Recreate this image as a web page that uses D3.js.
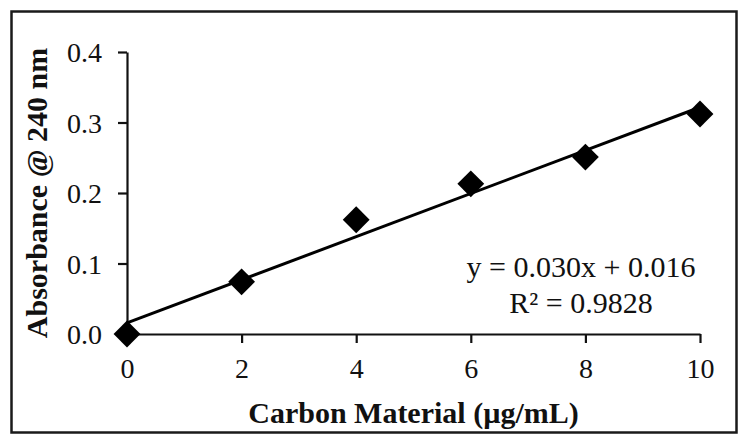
<!DOCTYPE html>
<html>
<head>
<meta charset="utf-8">
<script src="https://cdn.jsdelivr.net/npm/d3@7"></script>
<style>
  body { margin: 0; background: #fff; }
  text { font-family: "Liberation Serif", "DejaVu Serif", serif; fill: #111; }
</style>
</head>
<body>
<div id="my_dataviz"></div>
<script>
// data
var concentration = [0, 2, 4, 6, 8, 10];
var absorbance = [0.0, 0.074, 0.162, 0.213, 0.251, 0.312];
var xTicks = [0, 2, 4, 6, 8, 10];
var yTicks = [0, 0.1, 0.2, 0.3, 0.4];
var eqLabel = "y = 0.030x + 0.016";
var r2Label = "R\u00b2 = 0.9828";

var margin = { top: 52, right: 48, bottom: 111, left: 127 },
  width = 748 - margin.left - margin.right,
  height = 445 - margin.top - margin.bottom;

var svg = d3
  .select("#my_dataviz")
  .append("svg")
  .attr("id", "svg")
  .attr("width", 748)
  .attr("height", 445);

// outer frame
svg
  .append("rect")
  .attr("x", 11.5)
  .attr("y", 11.5)
  .attr("width", 725)
  .attr("height", 421)
  .attr("fill", "none")
  .attr("stroke", "#1a1a1a")
  .attr("stroke-width", 2.5);

var g = svg
  .append("g")
  .attr("transform", "translate(" + margin.left + "," + margin.top + ")");

var x = d3.scaleLinear().domain([0, 10]).range([0, width]);
var y = d3.scaleLinear().domain([0, 0.4]).range([height, 0]);

// X axis
var xAxis = g
  .append("g")
  .attr("transform", "translate(0," + height + ")")
  .call(d3.axisBottom(x).tickValues(xTicks).tickSize(9).tickSizeOuter(0).tickPadding(15));

// Y axis
var yAxis = g
  .append("g")
  .call(
    d3
      .axisLeft(y)
      .tickValues(yTicks)
      .tickSize(9)
      .tickSizeOuter(0)
      .tickPadding(16)
      .tickFormat(d3.format(".1f"))
  );

[xAxis, yAxis].forEach(function (a) {
  a.select(".domain").attr("stroke", "#111").attr("stroke-width", 2.2);
  a.selectAll(".tick line").attr("stroke", "#111").attr("stroke-width", 2.2);
  a.selectAll(".tick text")
    .style("font-family", '"Liberation Serif", serif')
    .style("font-size", "28px")
    .attr("fill", "#111");
});
xAxis.selectAll(".tick text").attr("dy", "0.72em");
yAxis.selectAll(".tick text").attr("dy", "0.34em");

// linear trendline (least squares on the points)
var n = concentration.length;
var mx = d3.mean(concentration),
  my = d3.mean(absorbance);
var sxy = 0,
  sxx = 0;
for (var i = 0; i < n; i++) {
  sxy += (concentration[i] - mx) * (absorbance[i] - my);
  sxx += (concentration[i] - mx) * (concentration[i] - mx);
}
var slope = sxy / sxx,
  intercept = my - slope * mx;

g.append("line")
  .attr("x1", x(0))
  .attr("y1", y(intercept))
  .attr("x2", x(10))
  .attr("y2", y(intercept + slope * 10))
  .attr("stroke", "#000")
  .attr("stroke-width", 3);

// markers
var points = concentration.map(function (c, i) {
  return { c: c, a: absorbance[i] };
});
g.selectAll(".pt")
  .data(points)
  .enter()
  .append("path")
  .attr("class", "pt")
  .attr("d", d3.symbol().type(d3.symbolSquare).size(360))
  .attr("transform", function (d) {
    return "translate(" + x(d.c) + "," + y(d.a) + ") rotate(45)";
  })
  .attr("fill", "#000");

// equation
g.append("text")
  .attr("x", 454)
  .attr("y", 225)
  .attr("text-anchor", "middle")
  .style("font-size", "30px")
  .text(eqLabel);
g.append("text")
  .attr("x", 454)
  .attr("y", 261)
  .attr("text-anchor", "middle")
  .style("font-size", "30px")
  .text(r2Label);

// axis titles
svg
  .append("text")
  .attr("x", margin.left + width / 2)
  .attr("y", 423)
  .attr("text-anchor", "middle")
  .style("font-size", "30px")
  .style("font-weight", "bold")
  .text("Carbon Material (\u00b5g/mL)");

svg
  .append("text")
  .attr("transform", "translate(47," + (margin.top + height / 2) + ") rotate(-90)")
  .attr("text-anchor", "middle")
  .style("font-size", "30px")
  .style("font-weight", "bold")
  .text("Absorbance @ 240 nm");
</script>
</body>
</html>
